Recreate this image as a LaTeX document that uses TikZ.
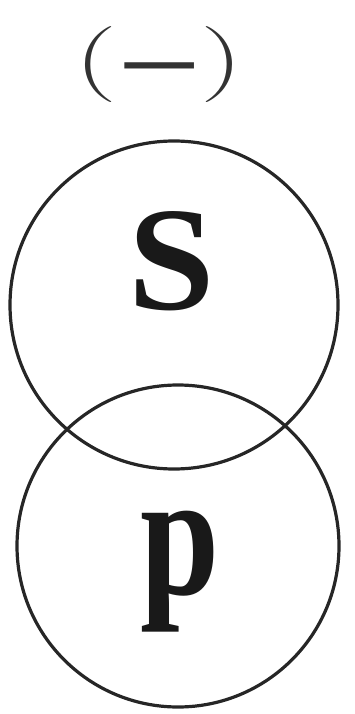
\documentclass[tikz,border=0pt]{standalone}
\usepackage{fontspec}
\setmainfont{Latin Modern Roman}
\newfontfamily\cjk{Noto Sans CJK SC}
\newfontfamily\boldserif{Liberation Serif}[BoldFont={Liberation Serif Bold}]
\newcommand{\widep}[1]{\scalebox{1.6}[1]{#1}}
\begin{document}
\begin{tikzpicture}[x=1pt,y=-1pt,
  ring/.style={draw=black!85,line width=3.2pt},
  letter/.style={inner sep=0pt,anchor=base,text=black!90}]
\useasboundingbox (0,0) rectangle (354,714);
\draw[ring] (174,305) circle[radius=164];
\draw[ring] (178,546) circle[radius=161];
\node[letter,text=black!80] (title) at (159,84) {\fontsize{76}{80}\selectfont \widep{(}\hspace{3pt}\raisebox{-12pt}{\cjk 一}\hspace{3pt}\widep{)}};
\node[letter] (s) at (172,309) {\scalebox{1.05}[1]{\boldserif\bfseries\fontsize{148}{150}\selectfont S}};
\node[letter] (p) at (180,594) {\scalebox{0.9}[1.12]{\boldserif\bfseries\fontsize{158}{160}\selectfont p}};
\end{tikzpicture}
\end{document}
